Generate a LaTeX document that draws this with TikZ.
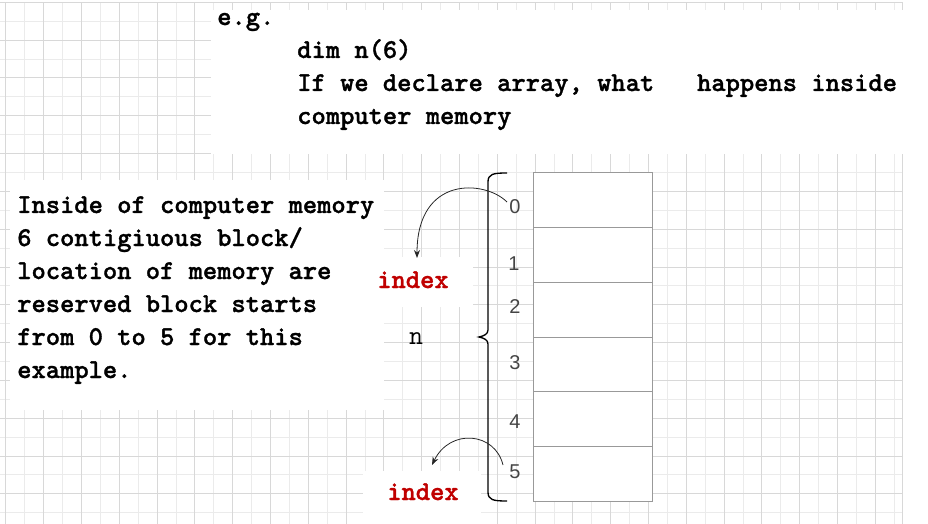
\documentclass[tikz,border=0pt]{standalone}
\usepackage{fontspec}
\newfontfamily\digitfont{Liberation Sans}
\newfontfamily\codefont[FakeBold=1.2]{lmmonolt10-bold.otf}
\usetikzlibrary{arrows.meta,calc}
\definecolor{gridmajor}{HTML}{D8D8D8}
\definecolor{gridminor}{HTML}{EBEBEB}
\definecolor{cellgray}{HTML}{999999}
\definecolor{idxred}{HTML}{C00000}
\definecolor{digitgray}{HTML}{444444}
\tikzset{
  codetext/.style={anchor=base west, inner sep=0pt, font=\fontsize{20.4}{24.75}\selectfont\codefont, text=black},
  idxtext/.style={anchor=base, inner sep=0pt, font=\fontsize{20.4}{24.75}\selectfont\codefont, text=idxred},
  ntext/.style={anchor=base, inner sep=0pt, font=\fontsize{20.4}{24.75}\selectfont\ttfamily, text=black},
  digit/.style={anchor=base, inner sep=0pt, font=\fontsize{15}{18}\selectfont\digitfont, text=digitgray},
  cell/.style={draw=cellgray, line width=0.75pt, minimum width=119*0.75pt, minimum height=54.7*0.75pt, inner sep=0pt, fill=white},
  arr/.style={draw=black!85, line width=0.6pt, -{Stealth[length=6pt,width=4.5pt]}},
  cover/.style={fill=white, draw=none}
}
\begin{document}
\begin{tikzpicture}[x=0.75pt,y=-0.75pt]
\useasboundingbox (0,0) rectangle (928,524);
% grid
\foreach \k in {0,...,23} {
  \draw[gridminor, line width=0.75pt] ({24.8+37.8*\k},2.4) -- ({24.8+37.8*\k},524);
}
\foreach \k in {0,...,13} {
  \draw[gridminor, line width=0.75pt] (0,{21.3+37.8*\k}) -- (902,{21.3+37.8*\k});
}
\foreach \k in {0,...,23} {
  \draw[gridmajor, line width=0.75pt] ({5.9+37.8*\k},2.4) -- ({5.9+37.8*\k},524);
}
\foreach \k in {0,...,13} {
  \draw[gridmajor, line width=0.75pt] (0,{2.4+37.8*\k}) -- (902,{2.4+37.8*\k});
}
\draw[gridmajor, line width=0.75pt] (902,2.4) -- (902,524);
% white covers
\fill[cover] (211,10) rectangle (906,154);
\fill[cover] (10,180) rectangle (384,410);
\fill[cover] (360,257) rectangle (473,307);
\fill[cover] (363,471) rectangle (481,524);
% top text
\node[codetext] (eg) at (217,25) {e.g.};
\node[codetext] (dim) at (297,58) {dim n(6)};
\node[codetext] (ifw) at (297,91) {If we declare array, what\ \ \ happens inside};
\node[codetext] (cm) at (297,124) {computer memory};
% left text
\node[codetext] (l1) at (17,213) {Inside of computer memory};
\node[codetext] (l2) at (17,246) {6 contigiuous block/};
\node[codetext] (l3) at (17,279) {location of memory are};
\node[codetext] (l4) at (17,312) {reserved block starts};
\node[codetext] (l5) at (17,345) {from 0 to 5 for this};
\node[codetext] (l6) at (17,378) {example.};
% memory cells
\foreach \i in {0,...,5} {
  \node[cell] (c\i) at (592.5,{173+27.35+54.7*\i}) {};
}
% brace
\draw[black, line width=1pt] (507,173) .. controls (493,173) and (488,174) .. (488,182)
  -- (488,330) .. controls (488,334) and (484,336) .. (479,337)
  .. controls (484,338) and (488,340) .. (488,344)
  -- (488,492) .. controls (488,500) and (493,501) .. (507,501);
% digits
\node[digit] (d0) at (515,214) {0};
\node[digit] (d1) at (514,270) {1};
\node[digit] (d2) at (515,313) {2};
\node[digit] (d3) at (515,369) {3};
\node[digit] (d4) at (515,428) {4};
\node[digit] (d5) at (515,478) {5};
% labels
\node[idxtext] (idx1) at (413,288) {index};
\node[idxtext] (idx2) at (423,500) {index};
\node[ntext] (nn) at (416,344) {n};
% arrows
\draw[arr] ($(d0.base)+(-8,-12)$) .. controls (485,180) and (417,175) .. ($(idx1.base)+(4,-30)$);
\draw[arr] ($(d5.base)+(-12,-13)$) .. controls (495,432) and (450,428) .. ($(idx2.base)+(9,-35)$);
\end{tikzpicture}
\end{document}
